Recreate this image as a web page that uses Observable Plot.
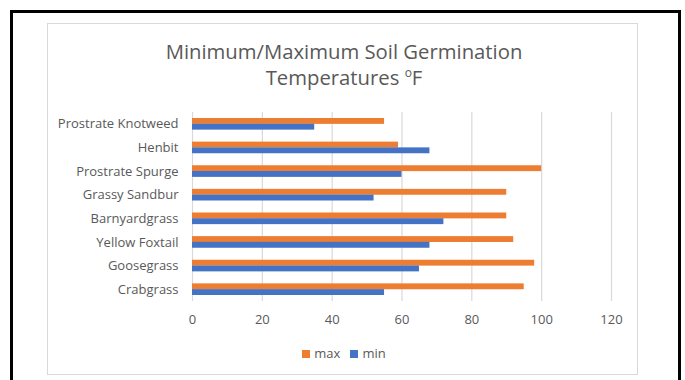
<!DOCTYPE html>
<html>
<head>
<meta charset="utf-8">
<script src="https://cdn.jsdelivr.net/npm/d3@7"></script>
<script src="https://cdn.jsdelivr.net/npm/@observablehq/plot@0.6"></script>
<style>
  html, body { margin: 0; padding: 0; background: #fff; width: 685px; height: 380px; overflow: hidden; font-family: "Open Sans", sans-serif; }
  #frame { position: absolute; left: 10px; top: 10px; width: 671px; height: 400px; box-sizing: border-box; border: 3px solid #000; }
  #area { position: absolute; left: 47px; top: 23px; width: 591px; height: 352px; box-sizing: border-box; border: 1px solid #d9d9d9; }
  #title { position: absolute; left: 47px; width: 594px; top: 38px; text-align: center; color: #595959; font-size: 20.3px; line-height: 26px; }
  #title sup { font-size: 12px; vertical-align: 0; position: relative; top: -8px; }
  #chart { position: absolute; left: 47px; top: 100px; line-height: 0; }
  #legend { position: absolute; left: 47px; width: 594px; top: 344px; text-align: center; color: #595959; font-size: 13px; line-height: 18px; }
  #legend .item { display: inline-block; margin: 0 5px; }
  #legend .sw { display: inline-block; width: 8px; height: 8px; margin-right: 4px; vertical-align: 0px; }
</style>
</head>
<body>
<div id="frame"></div>
<div id="area"></div>
<div id="title">Minimum/Maximum Soil Germination<br>Temperatures <sup>o</sup>F</div>
<div id="chart"></div>
<div id="legend"></div>
<script>
const categories = ["Prostrate Knotweed","Henbit","Prostrate Spurge","Grassy Sandbur","Barnyardgrass","Yellow Foxtail","Goosegrass","Crabgrass"];
const maxValues = [55, 59, 100, 90, 90, 92, 98, 95];
const minValues = [35, 68, 60, 52, 72, 68, 65, 55];
const xTicks = [0, 20, 40, 60, 80, 100, 120];
const seriesNames = ["max", "min"];
const seriesColors = ["#ED7D31", "#4472C4"];

const rows = categories.map((c, i) => ({name: c, max: maxValues[i], min: minValues[i]}));

const plot = Plot.plot({
  width: 591,
  height: 240,
  marginLeft: 145,
  marginRight: 27,
  marginTop: 12,
  marginBottom: 39,
  style: {fontFamily: "'Open Sans', sans-serif", fontSize: "13px", color: "#595959", background: "transparent"},
  x: {domain: [0, 120], ticks: xTicks, tickSize: 0, tickPadding: 13, label: null},
  y: {domain: categories, padding: 0, round: false, tickSize: 0, tickPadding: 14, label: null},
  marks: [
    Plot.ruleX(xTicks, {stroke: "#d9d9d9", strokeWidth: 1.2}),
    Plot.barX(rows, {y: "name", x: "max", fill: seriesColors[0], insetTop: 6, insetBottom: 11.75}),
    Plot.barX(rows, {y: "name", x: "min", fill: seriesColors[1], insetTop: 11.75, insetBottom: 6})
  ]
});
document.getElementById("chart").appendChild(plot);

const legend = document.getElementById("legend");
seriesNames.forEach((s, i) => {
  const item = document.createElement("span");
  item.className = "item";
  const sw = document.createElement("span");
  sw.className = "sw";
  sw.style.background = seriesColors[i];
  item.appendChild(sw);
  item.appendChild(document.createTextNode(s));
  legend.appendChild(item);
});
</script>
</body>
</html>
